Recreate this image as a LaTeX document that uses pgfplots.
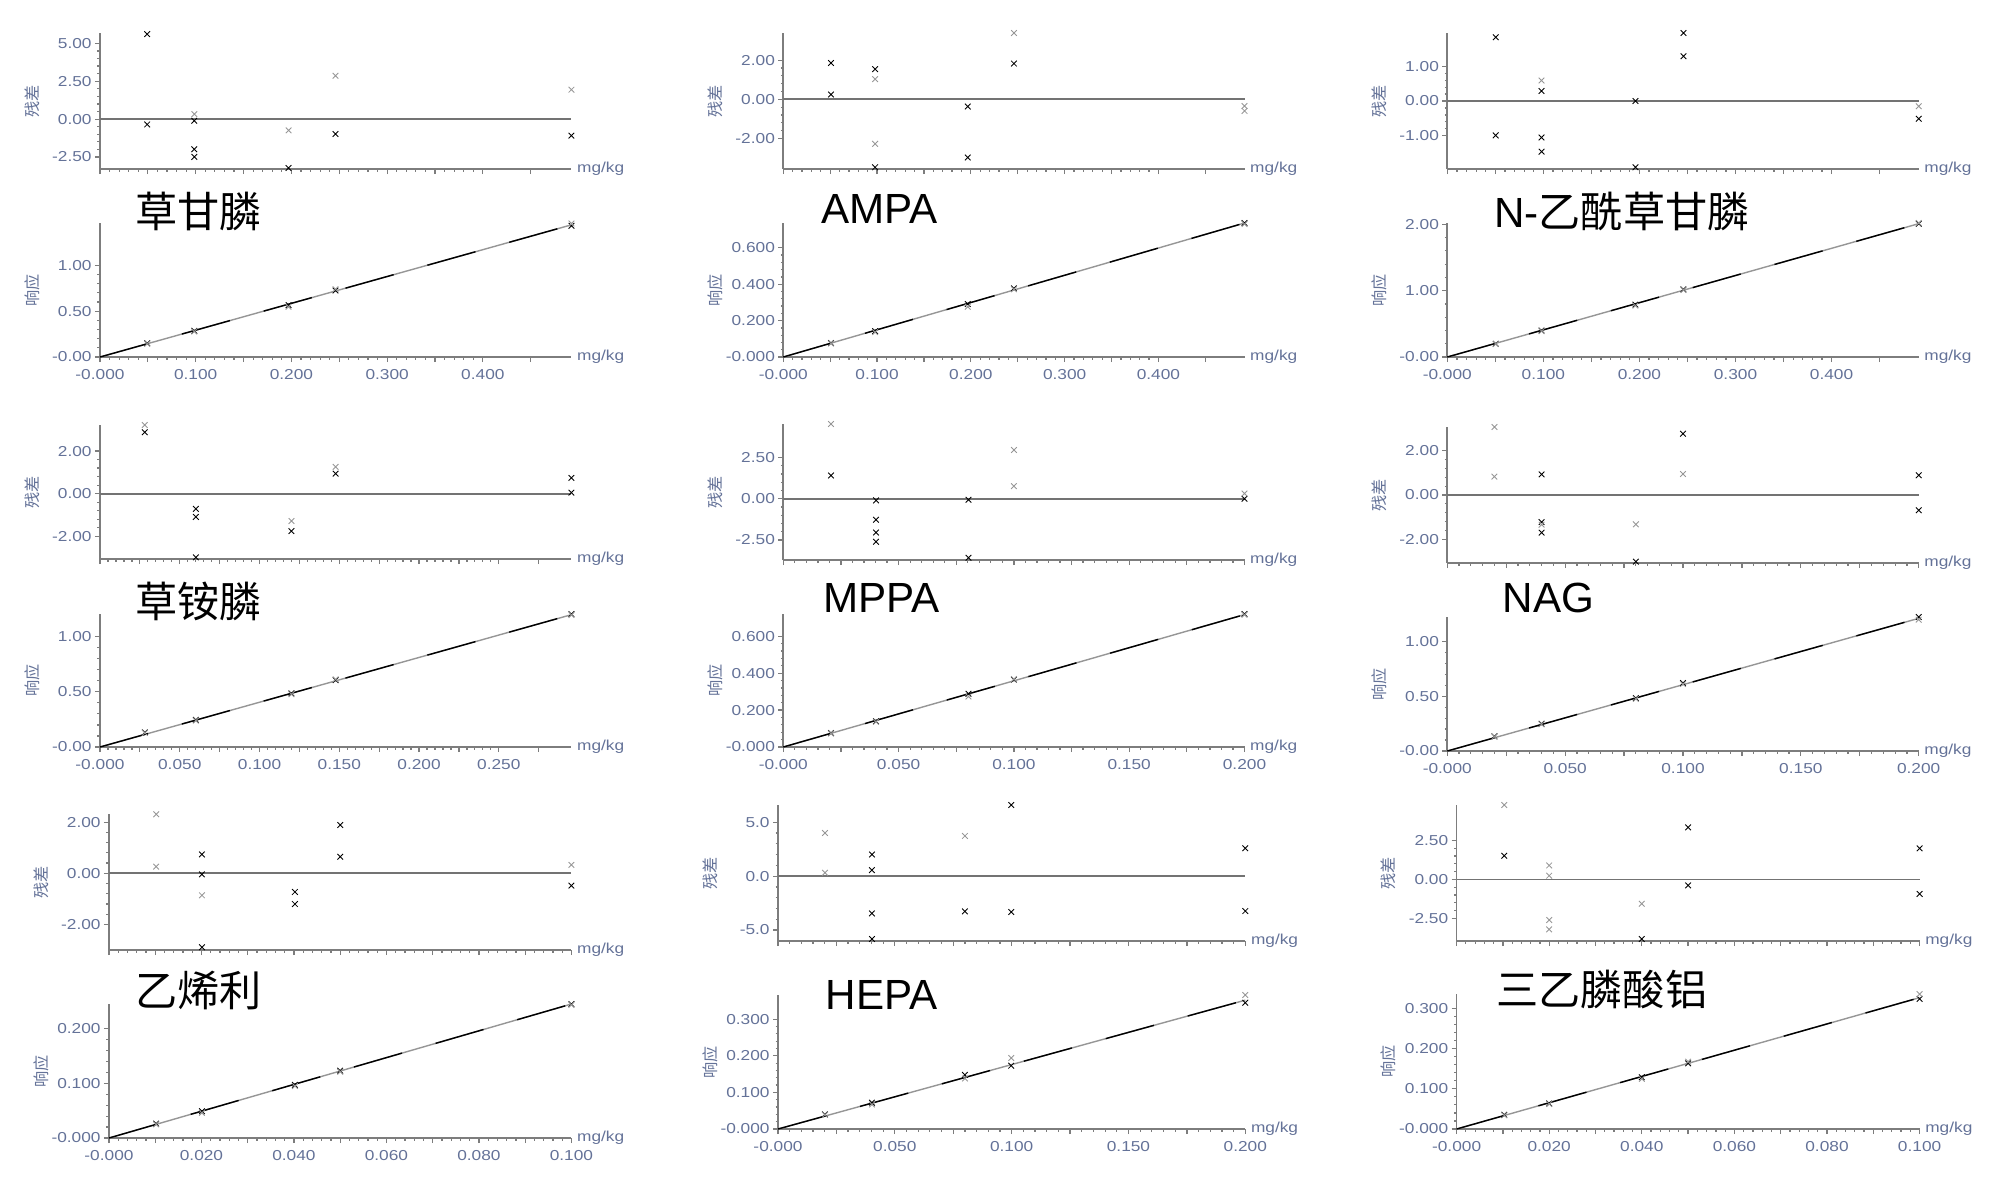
\documentclass[border=0pt]{standalone}
\usepackage{pgfplots}
\pgfplotsset{compat=1.18}
\usepackage{fontspec}
\setmainfont{Liberation Sans}
\newfontfamily\cjk{Noto Sans CJK SC}
\newfontfamily\tickfamily[FakeStretch=1.2]{Liberation Sans}
\newcommand\tickfont{\tickfamily\fontsize{4.1pt}{4.8pt}\selectfont}
\newcommand\titlefont{\fontsize{12pt}{14pt}\selectfont}
\definecolor{tickc}{RGB}{100,114,152}
\definecolor{axc}{RGB}{125,125,125}
\definecolor{zc}{RGB}{115,115,115}
\definecolor{gm}{RGB}{150,150,150}
\pgfplotsset{
  base/.style={
    scale only axis, anchor=south west,
    axis x line*=bottom, axis y line*=left,
    axis line style={draw=axc, line width=0.5pt},
    every tick/.style={draw=axc, line width=0.35pt},
    tick align=outside,
    major tick length=0.05cm, minor tick length=0.025cm,
    ticklabel style={font=\tickfont, text=tickc},
    xticklabel style={yshift=0.05cm},
    yticklabel style={xshift=0.09cm},
    minor y tick num=4, minor x tick num=9,
    extra x tick labels={},
    extra x tick style={major tick length=0.05cm},
    xmin=0, enlargelimits=false, clip=false,
  },
  res/.style={base, xticklabels={},
    extra description/.code={
      \node[rotate=90, anchor=center, text=tickc, font=\cjk\fontsize{4.6pt}{5pt}\selectfont] at ([xshift=-0.68cm]axis description cs:0,0.5) {残差};
      \node[anchor=west, text=tickc, font=\tickfont, inner sep=0pt] at ([xshift=0.05cm]axis description cs:1,0) {mg/kg};
    }},
  rsp/.style={base,
    extra description/.code={
      \node[rotate=90, anchor=center, text=tickc, font=\cjk\fontsize{4.6pt}{5pt}\selectfont] at ([xshift=-0.68cm]axis description cs:0,0.5) {响应};
      \node[anchor=west, text=tickc, font=\tickfont, inner sep=0pt] at ([xshift=0.05cm]axis description cs:1,0) {mg/kg};
    }},
  xA/.style={xmax=#1, xtick={0,0.1,0.2,0.3,0.4}, extra x ticks={0.05,0.15,0.25,0.35,0.45}},
  xAl/.style={xticklabels={-0.000,0.100,0.200,0.300,0.400}},
  xB/.style={xmax=#1, xtick={0,0.05,0.1,0.15,0.2,0.25}, extra x ticks={0.025,0.075,0.125,0.175,0.225,0.275}},
  xBl/.style={xticklabels={-0.000,0.050,0.100,0.150,0.200,0.250}},
  xC/.style={xmax=#1, xtick={0,0.05,0.1,0.15,0.2}, extra x ticks={0.025,0.075,0.125,0.175}},
  xCl/.style={xticklabels={-0.000,0.050,0.100,0.150,0.200}},
  xD/.style={xmax=#1, xtick={0,0.02,0.04,0.06,0.08,0.1}, extra x ticks={0.01,0.03,0.05,0.07,0.09}},
  xDl/.style={xticklabels={-0.000,0.020,0.040,0.060,0.080,0.100}},
  bk/.style={only marks, mark=x, black, mark size=0.04cm, mark options={line width=0.25pt}},
  gy/.style={only marks, mark=x, gm, mark size=0.04cm, mark options={line width=0.25pt}},
  zl/.style={draw=zc, line width=0.5pt, no marks},
  fitg/.style={gm, line width=0.4pt, no marks},
  fitb/.style={black, line width=0.4pt, no marks, dash pattern=on 0.5cm off 0.35cm},
}
\begin{document}
\begin{tikzpicture}
\useasboundingbox (0,0) rectangle (20,-11.97);
% ---------- titles
\node[anchor=west, font=\titlefont, inner sep=0pt] at (1.347,-2.11) {\cjk 草甘膦};
\node[anchor=west, font=\titlefont, inner sep=0pt] at (8.208,-2.09) {AMPA};
\node[anchor=west, font=\titlefont, inner sep=0pt] at (14.936,-2.11) {N-\cjk 乙酰草甘膦};
\node[anchor=west, font=\titlefont, inner sep=0pt] at (1.347,-6.01) {\cjk 草铵膦};
\node[anchor=west, font=\titlefont, inner sep=0pt] at (8.229,-5.975) {MPPA};
\node[anchor=west, font=\titlefont, inner sep=0pt] at (15.02,-5.975) {NAG};
\node[anchor=west, font=\titlefont, inner sep=0pt] at (1.347,-9.90) {\cjk 乙烯利};
\node[anchor=west, font=\titlefont, inner sep=0pt] at (8.249,-9.95) {HEPA};
\node[anchor=west, font=\titlefont, inner sep=0pt] at (14.957,-9.89) {\cjk 三乙膦酸铝};

% ================= Panel 1: 草甘膦
\begin{axis}[res, xA=0.4925, at={(1.00cm,-1.69cm)}, width=4.714cm, height=1.36cm,
  ymin=-3.29, ymax=5.68, ytick={-2.5,0,2.5,5}, yticklabels={-2.50,0.00,2.50,5.00}]
\addplot[zl] coordinates {(0,0) (0.4925,0)};
\addplot[bk] coordinates {(0.0493,5.61) (0.0493,-0.35) (0.0985,-0.11) (0.0985,-1.99) (0.0985,-2.49) (0.197,-3.22) (0.246,-0.98) (0.4925,-1.09)};
\addplot[gy] coordinates {(0.0985,0.33) (0.197,-0.74) (0.246,2.86) (0.4925,1.94)};
\end{axis}
\begin{axis}[rsp, xA=0.4925, xAl, at={(1.00cm,-3.57cm)}, width=4.714cm, height=1.34cm,
  ymin=0, ymax=1.46, ytick={0,0.5,1}, yticklabels={-0.00,0.50,1.00}]
\addplot[fitg] coordinates {(0,0) (0.4925,1.44)};
\addplot[fitb] coordinates {(0,0) (0.4925,1.44)};
\addplot[bk] coordinates {(0.0493,0.150) (0.0985,0.285) (0.197,0.565) (0.246,0.725) (0.4925,1.43)};
\addplot[gy] coordinates {(0.0493,0.145) (0.0985,0.278) (0.197,0.548) (0.246,0.738) (0.4925,1.455)};
\end{axis}

% ================= Panel 2: AMPA
\begin{axis}[res, xA=0.4918, at={(7.833cm,-1.69cm)}, width=4.612cm, height=1.36cm,
  ymin=-3.56, ymax=3.39, ytick={-2,0,2}, yticklabels={-2.00,0.00,2.00}]
\addplot[zl] coordinates {(0,0) (0.4918,0)};
\addplot[bk] coordinates {(0.0509,1.86) (0.0509,0.25) (0.0979,1.54) (0.0979,-3.47) (0.1967,-0.37) (0.1967,-2.97) (0.2459,1.83)};
\addplot[gy] coordinates {(0.0979,1.03) (0.0979,-2.27) (0.2459,3.39) (0.4918,-0.34) (0.4918,-0.59)};
\end{axis}
\begin{axis}[rsp, xA=0.4918, xAl, at={(7.833cm,-3.57cm)}, width=4.612cm, height=1.34cm,
  ymin=0, ymax=0.736, ytick={0,0.2,0.4,0.6}, yticklabels={-0.000,0.200,0.400,0.600}]
\addplot[fitg] coordinates {(0,0) (0.4918,0.736)};
\addplot[fitb] coordinates {(0,0) (0.4918,0.736)};
\addplot[bk] coordinates {(0.0509,0.077) (0.0979,0.142) (0.1967,0.291) (0.2459,0.377) (0.4918,0.736)};
\addplot[gy] coordinates {(0.0509,0.074) (0.0979,0.137) (0.1967,0.276) (0.2459,0.372) (0.4918,0.730)};
\end{axis}

% ================= Panel 3: N-乙酰草甘膦
\begin{axis}[res, xA=0.4907, at={(14.473cm,-1.69cm)}, width=4.714cm, height=1.36cm,
  ymin=-1.96, ymax=1.96, ytick={-1,0,1}, yticklabels={-1.00,0.00,1.00}]
\addplot[zl] coordinates {(0,0) (0.4907,0)};
\addplot[bk] coordinates {(0.0504,1.84) (0.0504,-0.99) (0.0981,0.29) (0.0981,-1.05) (0.0981,-1.46) (0.1958,0.0) (0.1958,-1.91) (0.2458,1.96) (0.2458,1.29) (0.4907,-0.51)};
\addplot[gy] coordinates {(0.0981,0.59) (0.4907,-0.15)};
\end{axis}
\begin{axis}[rsp, xA=0.4907, xAl, at={(14.473cm,-3.57cm)}, width=4.714cm, height=1.34cm,
  ymin=0, ymax=2.02, ytick={0,1,2}, yticklabels={-0.00,1.00,2.00}]
\addplot[fitg] coordinates {(0,0) (0.4907,2.01)};
\addplot[fitb] coordinates {(0,0) (0.4907,2.01)};
\addplot[bk] coordinates {(0.0504,0.20) (0.0981,0.40) (0.1958,0.79) (0.2458,1.02) (0.4907,2.01)};
\addplot[gy] coordinates {(0.0504,0.195) (0.0981,0.39) (0.1958,0.775) (0.2458,1.01) (0.4907,2.02)};
\end{axis}

% ================= Panel 4: 草铵膦
\begin{axis}[res, xB=0.2955, at={(1.00cm,-5.59cm)}, width=4.714cm, height=1.34cm,
  ymin=-3.06, ymax=3.22, ytick={-2,0,2}, yticklabels={-2.00,0.00,2.00}]
\addplot[zl] coordinates {(0,0) (0.2955,0)};
\addplot[bk] coordinates {(0.0281,2.88) (0.0601,-0.71) (0.0601,-1.09) (0.0601,-2.98) (0.12,-1.75) (0.1477,0.94) (0.2955,0.74) (0.2955,0.05)};
\addplot[gy] coordinates {(0.0281,3.22) (0.12,-1.28) (0.1477,1.26)};
\end{axis}
\begin{axis}[rsp, xB=0.2955, xBl, at={(1.00cm,-7.47cm)}, width=4.714cm, height=1.33cm,
  ymin=0, ymax=1.204, ytick={0,0.5,1}, yticklabels={-0.00,0.50,1.00}]
\addplot[fitg] coordinates {(0,0) (0.2955,1.198)};
\addplot[fitb] coordinates {(0,0) (0.2955,1.198)};
\addplot[bk] coordinates {(0.0281,0.132) (0.0601,0.246) (0.12,0.486) (0.1477,0.605) (0.2955,1.204)};
\addplot[gy] coordinates {(0.0281,0.128) (0.0601,0.240) (0.12,0.478) (0.1477,0.613) (0.2955,1.195)};
\end{axis}

% ================= Panel 5: MPPA
\begin{axis}[res, xC=0.2, at={(7.833cm,-5.60cm)}, width=4.612cm, height=1.36cm,
  ymin=-3.71, ymax=4.52, ytick={-2.5,0,2.5}, yticklabels={-2.50,0.00,2.50}]
\addplot[zl] coordinates {(0,0) (0.2,0)};
\addplot[bk] coordinates {(0.0207,1.41) (0.0402,-0.10) (0.0402,-1.27) (0.0402,-2.05) (0.0402,-2.61) (0.0803,-0.06) (0.0803,-3.57) (0.2,0.0)};
\addplot[gy] coordinates {(0.0207,4.52) (0.1,2.95) (0.1,0.76) (0.2,0.32)};
\end{axis}
\begin{axis}[rsp, xC=0.2, xCl, at={(7.833cm,-7.47cm)}, width=4.612cm, height=1.33cm,
  ymin=0, ymax=0.72, ytick={0,0.2,0.4,0.6}, yticklabels={-0.000,0.200,0.400,0.600}]
\addplot[fitg] coordinates {(0,0) (0.2,0.717)};
\addplot[fitb] coordinates {(0,0) (0.2,0.717)};
\addplot[bk] coordinates {(0.0207,0.0755) (0.0402,0.140) (0.0803,0.288) (0.1,0.365) (0.2,0.720)};
\addplot[gy] coordinates {(0.0207,0.073) (0.0402,0.137) (0.0803,0.273) (0.1,0.368) (0.2,0.716)};
\end{axis}

% ================= Panel 6: NAG
\begin{axis}[res, xC=0.2, at={(14.473cm,-5.63cm)}, width=4.714cm, height=1.36cm,
  ymin=-3.07, ymax=3.07, ytick={-2,0,2}, yticklabels={-2.00,0.00,2.00}]
\addplot[zl] coordinates {(0,0) (0.2,0)};
\addplot[bk] coordinates {(0.04,0.93) (0.04,-1.22) (0.04,-1.70) (0.08,-3.01) (0.1,2.77) (0.2,0.89) (0.2,-0.69)};
\addplot[gy] coordinates {(0.02,3.07) (0.02,0.83) (0.04,-1.34) (0.08,-1.32) (0.1,0.95)};
\end{axis}
\begin{axis}[rsp, xC=0.2, xCl, at={(14.473cm,-7.51cm)}, width=4.714cm, height=1.34cm,
  ymin=0, ymax=1.222, ytick={0,0.5,1}, yticklabels={-0.00,0.50,1.00}]
\addplot[fitg] coordinates {(0,0) (0.2,1.21)};
\addplot[fitb] coordinates {(0,0) (0.2,1.21)};
\addplot[bk] coordinates {(0.02,0.134) (0.04,0.249) (0.08,0.483) (0.1,0.620) (0.2,1.222)};
\addplot[gy] coordinates {(0.02,0.130) (0.04,0.244) (0.08,0.476) (0.1,0.612) (0.2,1.198)};
\end{axis}

% ================= Panel 7: 乙烯利
\begin{axis}[res, xD=0.1, at={(1.09cm,-9.50cm)}, width=4.624cm, height=1.36cm,
  ymin=-3.0, ymax=2.32, ytick={-2,0,2}, yticklabels={-2.00,0.00,2.00}]
\addplot[zl] coordinates {(0,0) (0.1,0)};
\addplot[bk] coordinates {(0.0201,0.74) (0.0201,-0.04) (0.0201,-2.89) (0.0402,-0.73) (0.0402,-1.20) (0.05,1.89) (0.05,0.65) (0.1,-0.48)};
\addplot[gy] coordinates {(0.0102,2.31) (0.0102,0.26) (0.0201,-0.86) (0.1,0.33)};
\end{axis}
\begin{axis}[rsp, xD=0.1, xDl, at={(1.09cm,-11.38cm)}, width=4.624cm, height=1.34cm,
  ymin=0, ymax=0.2447, ytick={0,0.1,0.2}, yticklabels={-0.000,0.100,0.200}]
\addplot[fitg] coordinates {(0,0) (0.1,0.2447)};
\addplot[fitb] coordinates {(0,0) (0.1,0.2447)};
\addplot[bk] coordinates {(0.0102,0.0263) (0.0201,0.049) (0.0402,0.0972) (0.05,0.123) (0.1,0.2447)};
\addplot[gy] coordinates {(0.0102,0.025) (0.0201,0.046) (0.0402,0.095) (0.05,0.121) (0.1,0.243)};
\end{axis}

% ================= Panel 8: HEPA
\begin{axis}[res, xC=0.2, at={(7.78cm,-9.41cm)}, width=4.673cm, height=1.36cm,
  ymin=-6.02, ymax=6.6, ytick={-5,0,5}, yticklabels={-5.0,0.0,5.0}]
\addplot[zl] coordinates {(0,0) (0.2,0)};
\addplot[bk] coordinates {(0.0402,2.01) (0.0402,0.56) (0.0402,-3.46) (0.0402,-5.83) (0.08,-3.27) (0.0998,6.6) (0.0998,-3.33) (0.2,2.59) (0.2,-3.24)};
\addplot[gy] coordinates {(0.0201,4.01) (0.0201,0.31) (0.08,3.73)};
\end{axis}
\begin{axis}[rsp, xC=0.2, xCl, at={(7.78cm,-11.29cm)}, width=4.673cm, height=1.34cm,
  ymin=0, ymax=0.366, ytick={0,0.1,0.2,0.3}, yticklabels={-0.000,0.100,0.200,0.300}]
\addplot[fitg] coordinates {(0,0) (0.2,0.352)};
\addplot[fitb] coordinates {(0,0) (0.2,0.352)};
\addplot[bk] coordinates {(0.0201,0.040) (0.0402,0.072) (0.08,0.148) (0.0998,0.173) (0.2,0.345)};
\addplot[gy] coordinates {(0.0201,0.039) (0.0402,0.067) (0.08,0.138) (0.0998,0.194) (0.2,0.366)};
\end{axis}

% ================= Panel 9: 三乙膦酸铝
\begin{axis}[res, xD=0.1, at={(14.566cm,-9.41cm)}, width=4.630cm, height=1.36cm,
  ymin=-3.97, ymax=4.79, ytick={-2.5,0,2.5}, yticklabels={-2.50,0.00,2.50}]
\addplot[zl] coordinates {(0,0) (0.1,0)};
\addplot[bk] coordinates {(0.0103,1.52) (0.04,-3.84) (0.05,3.35) (0.05,-0.39) (0.1,2.0) (0.1,-0.94)};
\addplot[gy] coordinates {(0.0103,4.79) (0.02,0.90) (0.02,0.24) (0.02,-2.62) (0.02,-3.22) (0.04,-1.57)};
\end{axis}
\begin{axis}[rsp, xD=0.1, xDl, at={(14.566cm,-11.29cm)}, width=4.630cm, height=1.35cm,
  ymin=0, ymax=0.335, ytick={0,0.1,0.2,0.3}, yticklabels={-0.000,0.100,0.200,0.300}]
\addplot[fitg] coordinates {(0,0) (0.1,0.326)};
\addplot[fitb] coordinates {(0,0) (0.1,0.326)};
\addplot[bk] coordinates {(0.0103,0.0354) (0.02,0.0635) (0.04,0.1286) (0.05,0.163) (0.1,0.323)};
\addplot[gy] coordinates {(0.0103,0.034) (0.02,0.062) (0.04,0.1245) (0.05,0.167) (0.1,0.335)};
\end{axis}
\end{tikzpicture}
\end{document}
